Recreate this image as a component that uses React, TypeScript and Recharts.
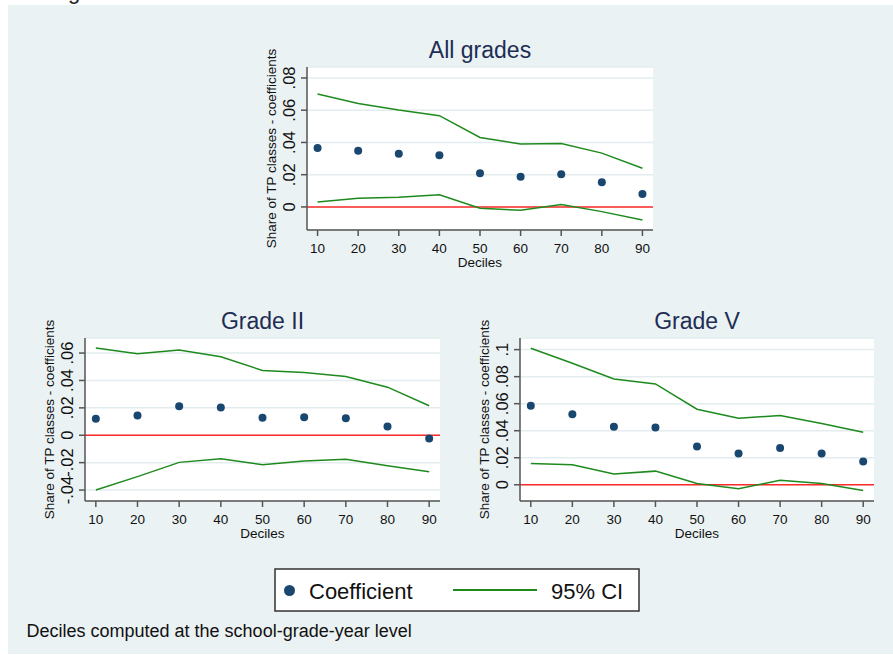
import { ComposedChart, Scatter, Line, XAxis, YAxis, CartesianGrid, ReferenceLine } from 'recharts';

const deciles = [10, 20, 30, 40, 50, 60, 70, 80, 90];

// All grades
const allCoef = [0.0365, 0.0348, 0.033, 0.0321, 0.0209, 0.0187, 0.0203, 0.0153, 0.0081];
const allUpper = [0.07, 0.0642, 0.0601, 0.0566, 0.0431, 0.039, 0.0394, 0.0334, 0.024];
const allLower = [0.0031, 0.0054, 0.006, 0.0075, -0.0008, -0.0021, 0.0015, -0.0029, -0.0081];
const allTicks = [0, 0.02, 0.04, 0.06, 0.08];

// Grade II
const g2Coef = [0.012, 0.0144, 0.0212, 0.0202, 0.0127, 0.0132, 0.0124, 0.0063, -0.0024];
const g2Upper = [0.0637, 0.0595, 0.0622, 0.0573, 0.0473, 0.0459, 0.0429, 0.0351, 0.0215];
const g2Lower = [-0.04, -0.0302, -0.0198, -0.0171, -0.0215, -0.0188, -0.0176, -0.0222, -0.0266];
const g2Ticks = [-0.04, -0.02, 0, 0.02, 0.04, 0.06];

// Grade V
const g5Coef = [0.0584, 0.0522, 0.0429, 0.0424, 0.0283, 0.0232, 0.0273, 0.0232, 0.0172];
const g5Upper = [0.101, 0.0899, 0.0783, 0.0746, 0.0559, 0.0493, 0.0512, 0.0453, 0.0389];
const g5Lower = [0.0158, 0.0148, 0.0079, 0.0101, 0.001, -0.003, 0.0034, 0.001, -0.0042];
const g5Ticks = [0, 0.02, 0.04, 0.06, 0.08, 0.1];

const NAVY = '#1a476f';
const GREEN = '#1e8a1e';
const RED = '#ff2a2a';
const AXIS = '#555';
const BG = '#eaf2f3';
const FONT = '"Liberation Sans", Arial, Helvetica, sans-serif';

// stata style labels: .02, -.04
const fmt = (v: number) => (v === 0 ? '0' : String(+v.toFixed(2)).replace('0.', '.'));

function YTick(props: any) {
  const { x, y, payload } = props;
  const bx = x - 3.5;
  return (
    <text x={bx} y={y} transform={`rotate(-90 ${bx} ${y})`} textAnchor="middle" fontSize={16.5} fill="#111" fontFamily={FONT}>
      {fmt(payload.value)}
    </text>
  );
}

const panels = [
  { title: 'All grades', coef: allCoef, upper: allUpper, lower: allLower, ticks: allTicks, domain: [-0.0143, 0.0868],
    left: 250, top: 30, width: 420, height: 250, yw: 57, right: 17, mtop: 37, xh: 50 },
  { title: 'Grade II', coef: g2Coef, upper: g2Upper, lower: g2Lower, ticks: g2Ticks, domain: [-0.048, 0.071],
    left: 30, top: 300, width: 420, height: 250, yw: 55, right: 10, mtop: 38, xh: 49 },
  { title: 'Grade V', coef: g5Coef, upper: g5Upper, lower: g5Lower, ticks: g5Ticks, domain: [-0.012, 0.1086],
    left: 460, top: 300, width: 430, height: 250, yw: 60, right: 16, mtop: 38, xh: 49 },
];

function Panel({ p }: { p: any }) {
  const rows = deciles.map((d, i) => ({ decile: d, coef: p.coef[i], upper: p.upper[i], lower: p.lower[i] }));
  return (
    <div style={{ position: 'absolute', left: p.left, top: p.top }}>
      <ComposedChart width={p.width} height={p.height} data={rows} margin={{ top: p.mtop, right: p.right, left: 0, bottom: 0 }}>
        <CartesianGrid vertical={false} stroke="#e3ecee" strokeWidth={1.5} fill="#fff" />
        <XAxis
          dataKey="decile"
          type="number"
          domain={[7.4, 92.6]}
          ticks={deciles}
          interval={0}
          height={p.xh}
          tickSize={6}
          tickMargin={7}
          axisLine={{ stroke: AXIS, strokeWidth: 1.5 }}
          tickLine={{ stroke: AXIS, strokeWidth: 1.5 }}
          tick={{ fontSize: 13.5, fill: '#111', fontFamily: FONT }}
        />
        <YAxis
          type="number"
          domain={p.domain}
          ticks={p.ticks}
          interval={0}
          width={p.yw}
          tickSize={6}
          axisLine={{ stroke: AXIS, strokeWidth: 1.5 }}
          tickLine={{ stroke: AXIS, strokeWidth: 1.5 }}
          tick={<YTick />}
        />
        <ReferenceLine y={0} stroke={RED} strokeWidth={1.5} />
        <Line dataKey="upper" type="linear" stroke={GREEN} strokeWidth={1.5} dot={false} isAnimationActive={false} />
        <Line dataKey="lower" type="linear" stroke={GREEN} strokeWidth={1.5} dot={false} isAnimationActive={false} />
        <Scatter
          dataKey="coef"
          fill={NAVY}
          isAnimationActive={false}
          shape={(s: any) => <circle cx={s.cx} cy={s.cy} r={4} fill={NAVY} />}
        />
      </ComposedChart>
    </div>
  );
}

export default function App() {
  return (
    <div style={{ position: 'absolute', left: 0, top: 0, width: 893, height: 655, background: '#fff', overflow: 'hidden', fontFamily: FONT }}>
      <div style={{ position: 'absolute', left: 8, top: 5, width: 885, height: 649, background: BG }} />
      {panels.map((p) => (
        <Panel key={p.title} p={p} />
      ))}
      <svg width={893} height={655} style={{ position: 'absolute', left: 0, top: 0, pointerEvents: 'none' }} fontFamily={FONT}>
        <text x={68} y={-1} fontSize={22} fill="#222">g</text>
        {panels.map((p) => {
          const axisX = p.left + p.yw;
          const plotR = p.left + p.width - p.right;
          const plotT = p.top + p.mtop;
          const plotB = p.top + p.height - p.xh;
          const cx = (axisX + plotR) / 2;
          const cy = (plotT + plotB) / 2;
          const lx = axisX - 31;
          return (
            <g key={p.title}>
              <text x={cx} y={plotT - 9} textAnchor="middle" fontSize={23} fill="#1e2d53">{p.title}</text>
              <text x={lx} y={cy} transform={`rotate(-90 ${lx} ${cy})`} textAnchor="middle" fontSize={13.5} fill="#111">
                Share of TP classes - coefficients
              </text>
              <text x={cx} y={plotB + 36.5} textAnchor="middle" fontSize={13.5} fill="#111">Deciles</text>
            </g>
          );
        })}
        <rect x={275} y={569} width={364} height={42} fill="#fff" stroke="#333" strokeWidth={1.5} />
        <circle cx={289.5} cy={590.5} r={5.5} fill={NAVY} />
        <text x={309} y={599.3} fontSize={22} fill="#111">Coefficient</text>
        <line x1={453} x2={537} y1={590} y2={590} stroke={GREEN} strokeWidth={2} />
        <text x={551} y={599.3} fontSize={22} fill="#111">95% CI</text>
        <text x={26.5} y={637.3} fontSize={18} fill="#111">Deciles computed at the school-grade-year level</text>
      </svg>
    </div>
  );
}
